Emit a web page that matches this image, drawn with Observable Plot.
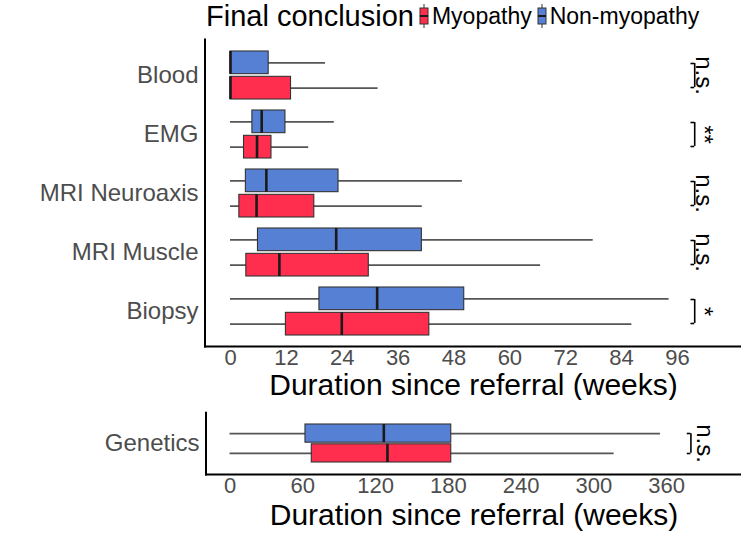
<!DOCTYPE html>
<html>
<head>
<meta charset="utf-8">
<script src="https://cdn.jsdelivr.net/npm/d3@7"></script>
<script src="https://cdn.jsdelivr.net/npm/@observablehq/plot@0.6"></script>
<style>
  html, body { margin: 0; padding: 0; background: #fff; }
  #wrap { position: relative; width: 741px; height: 535px; overflow: hidden; font-family: "Liberation Sans", Arial, sans-serif; }
  #legend { position: absolute; left: 206px; top: 0px; height: 32px; display: flex; align-items: center; white-space: nowrap; color: #000; }
  #legend .title { font-size: 29px; margin-right: 5px; }
  #legend .lab { font-size: 23px; margin-left: 3px; margin-right: 5px; }
  #top, #bottom { position: absolute; left: 0; }
  #top { top: 0; }
  #bottom { top: 400px; }
</style>
</head>
<body>
<div id="wrap">
  <div id="top"></div>
  <div id="bottom"></div>
  <div id="legend"></div>
</div>
<script>
// ---------- data (weeks) ----------
const categories = ["Blood", "EMG", "MRI Neuroaxis", "MRI Muscle", "Biopsy"];
const groups = ["Myopathy", "Non-myopathy"];
const groupColors = ["#FF2E4E", "#5680D3"];

const myoMin = [0, 0, 0, 0, 0];
const myoQ1  = [0, 2.9, 1.9, 3.4, 11.9];
const myoMed = [0, 5.7, 5.6, 10.5, 23.9];
const myoQ3  = [13.0, 8.8, 18.0, 29.7, 42.7];
const myoMax = [31.7, 16.8, 41.2, 66.6, 86.2];

const nonMin = [0, 0, 0, 0, 0];
const nonQ1  = [0, 4.7, 3.3, 5.9, 19.1];
const nonMed = [0, 6.7, 7.7, 22.7, 31.5];
const nonQ3  = [8.2, 11.8, 23.2, 41.1, 50.2];
const nonMax = [20.4, 22.3, 49.8, 77.9, 94.2];

const sigLabels = ["n.s.", "**", "n.s.", "n.s.", "*"];

const geneticsCategory = ["Genetics"];
// [Myopathy, Non-myopathy]
const genMin = [0, 0];
const genQ1  = [67.4, 62.2];
const genMed = [129.8, 126.8];
const genQ3  = [182.4, 182.4];
const genMax = [316.7, 354.9];
const geneticsSig = ["n.s."];

const topTicks = [0, 12, 24, 36, 48, 60, 72, 84, 96];
const bottomTicks = [0, 60, 120, 180, 240, 300, 360];
const axisTitle = "Duration since referral (weeks)";
const legendTitle = "Final conclusion";

// ---------- build rows ----------
const topRows = [];
categories.forEach((c, i) => {
  topRows.push({cat: c, group: groups[0], min: myoMin[i], q1: myoQ1[i], med: myoMed[i], q3: myoQ3[i], max: myoMax[i]});
  topRows.push({cat: c, group: groups[1], min: nonMin[i], q1: nonQ1[i], med: nonMed[i], q3: nonQ3[i], max: nonMax[i]});
});
const bottomRows = groups.map((g, j) => ({cat: geneticsCategory[0], group: g, min: genMin[j], q1: genQ1[j], med: genMed[j], q3: genQ3[j], max: genMax[j]}));
const topSig = categories.map((c, i) => ({cat: c, label: sigLabels[i]}));
const bottomSig = geneticsCategory.map((c, i) => ({cat: c, label: geneticsSig[i]}));

const FONT = "Liberation Sans, Arial, Helvetica, sans-serif";

function panel({rows, sig, cats, ticks, xDomain, width, height, mt, mb, ml, padding, boxH, gap, sigX, sigTextX, bracketHalf, bracketTick, titleDy}) {
  const plotH = height - mt - mb;
  const step = plotH / (cats.length + padding);
  const band = step * (1 - padding);
  const half = band / 2;
  const inset = half + gap / 2;
  const off = gap / 2 + boxH / 2;
  const myo = rows.filter(d => d.group === groups[0]);
  const non = rows.filter(d => d.group === groups[1]);
  const boxStyle = {stroke: "#333", strokeWidth: 1.1};
  const bInset = half - bracketHalf;
  const plot = Plot.plot({
    width, height,
    marginLeft: ml, marginRight: 0, marginTop: mt, marginBottom: mb,
    style: {fontFamily: FONT, fontSize: "22px", color: "#4D4D4D", background: "#fff", overflow: "visible"},
    x: {domain: xDomain, axis: null, label: null},
    y: {domain: cats, padding, axis: null, label: null},
    marks: [
      // whiskers
      Plot.ruleY(non, {y: "cat", x1: "min", x2: "max", dy: -off, stroke: "#555", strokeWidth: 1.8}),
      Plot.ruleY(myo, {y: "cat", x1: "min", x2: "max", dy: off, stroke: "#555", strokeWidth: 1.8}),
      // boxes
      Plot.barX(non, {y: "cat", x1: "q1", x2: "q3", insetBottom: inset, fill: groupColors[1], ...boxStyle}),
      Plot.barX(myo, {y: "cat", x1: "q1", x2: "q3", insetTop: inset, fill: groupColors[0], ...boxStyle}),
      // medians
      Plot.tickX(non, {y: "cat", x: "med", insetBottom: inset, stroke: "#1a1a1a", strokeWidth: 2.6}),
      Plot.tickX(myo, {y: "cat", x: "med", insetTop: inset, stroke: "#1a1a1a", strokeWidth: 2.6}),
      // significance brackets "]"
      Plot.tickX(sig, {x: () => sigX, y: "cat", insetTop: bInset, insetBottom: bInset, stroke: "#000", strokeWidth: 1.6}),
      Plot.ruleY(sig, {y: "cat", x1: () => sigX - bracketTick, x2: () => sigX, dy: -bracketHalf, stroke: "#000", strokeWidth: 1.6}),
      Plot.ruleY(sig, {y: "cat", x1: () => sigX - bracketTick, x2: () => sigX, dy: bracketHalf, stroke: "#000", strokeWidth: 1.6}),
      Plot.text(sig, {y: "cat", x: () => sigTextX, text: "label", rotate: 90, fontSize: 24, fill: "#000"}),
      // axes
      Plot.axisX(ticks, {tickSize: 0, tickPadding: 2, fontSize: 22, fill: "#4D4D4D"}),
      Plot.axisY(cats, {tickSize: 0, tickPadding: 7, fontSize: 24, fill: "#4D4D4D"}),
      Plot.text([axisTitle], {frameAnchor: "bottom", dy: titleDy, text: d => d, fontSize: 30, fill: "#000"})
    ]
  });
  // axis lines at panel edges, from the plot's own scales
  const xr = plot.scale("x").range;
  const yr = plot.scale("y").range;
  const svg = d3.select(plot);
  svg.append("line").attr("x1", xr[0]).attr("x2", xr[0]).attr("y1", yr[0]).attr("y2", yr[1] + 1)
    .attr("stroke", "#000").attr("stroke-width", 2);
  svg.append("line").attr("x1", xr[0] - 1).attr("x2", xr[1]).attr("y1", yr[1]).attr("y2", yr[1])
    .attr("stroke", "#000").attr("stroke-width", 2);
  return plot;
}

const topPlot = panel({
  rows: topRows, sig: topSig, cats: categories, ticks: topTicks,
  xDomain: [-5.37, 109.75], width: 741, height: 410, mt: 38.5, mb: 63.5, ml: 205,
  padding: 0.19, boxH: 22.7, gap: 2.6, sigX: 99.7, sigTextX: 101.6,
  bracketHalf: 12, bracketTick: 0.8, titleDy: 48
});
document.getElementById("top").appendChild(topPlot);

const bottomPlot = panel({
  rows: bottomRows, sig: bottomSig, cats: geneticsCategory, ticks: bottomTicks,
  xDomain: [-19.4, 421.7], width: 741, height: 135, mt: 11.7, mb: 60.5, ml: 206,
  padding: 0.242, boxH: 18.5, gap: 1.3, sigX: 380, sigTextX: 391.5,
  bracketHalf: 10, bracketTick: 3, titleDy: 50
});
document.getElementById("bottom").appendChild(bottomPlot);

// ---------- legend ----------
const legend = d3.select("#legend");
legend.append("span").attr("class", "title").text(legendTitle);
groups.forEach((g, i) => {
  const k = legend.append("svg").attr("width", 10).attr("height", 28).style("overflow", "visible");
  k.append("line").attr("x1", 5).attr("x2", 5).attr("y1", 2).attr("y2", 26).attr("stroke", "#555").attr("stroke-width", 1.2);
  k.append("rect").attr("x", 1).attr("y", 6).attr("width", 8).attr("height", 16)
    .attr("fill", groupColors[i]).attr("stroke", "#333").attr("stroke-width", 1);
  k.append("line").attr("x1", 1).attr("x2", 9).attr("y1", 14).attr("y2", 14).attr("stroke", "#1a1a1a").attr("stroke-width", 2);
  legend.append("span").attr("class", "lab").text(g);
});
</script>
</body>
</html>
